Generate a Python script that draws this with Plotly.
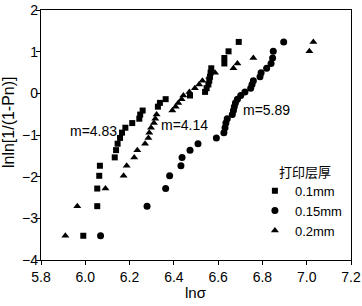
import plotly.graph_objects as go

# ln ln[1/(1-Pn)] values (same ranks for each series)
y_rank = [-3.418, -2.708, -2.285, -1.979, -1.738, -1.537, -1.363, -1.209, -1.070, -0.943,
          -0.825, -0.714, -0.609, -0.510, -0.413, -0.320, -0.229, -0.140, -0.052, 0.035,
          0.124, 0.213, 0.304, 0.398, 0.496, 0.601, 0.717, 0.848, 1.008, 1.234]

x_01 = [5.991, 6.054, 6.054, 6.063, 6.066, 6.133, 6.139, 6.146, 6.157, 6.166,
        6.181, 6.212, 6.244, 6.248, 6.259, 6.328, 6.337, 6.363, 6.473, 6.541,
        6.548, 6.556, 6.560, 6.563, 6.566, 6.569, 6.628, 6.628, 6.647, 6.693]

x_015 = [6.069, 6.279, 6.363, 6.381, 6.432, 6.437, 6.473, 6.509, 6.592, 6.626,
         6.631, 6.635, 6.641, 6.664, 6.669, 6.673, 6.678, 6.687, 6.702, 6.721,
         6.747, 6.753, 6.759, 6.789, 6.794, 6.819, 6.839, 6.846, 6.849, 6.896]

x_02 = [5.910, 5.964, 6.091, 6.173, 6.187, 6.221, 6.235, 6.270, 6.285, 6.289,
        6.297, 6.310, 6.316, 6.322, 6.393, 6.408, 6.420, 6.435, 6.443, 6.470,
        6.495, 6.514, 6.529, 6.560, 6.586, 6.669, 6.687, 6.759, 7.012, 7.030]

series_names = ["0.1mm", "0.15mm", "0.2mm"]
series_x = [x_01, x_015, x_02]
symbols = ["square", "circle", "triangle-up"]
sizes = [6, 7, 7]

m_labels = ["m=4.83", "m=4.14", "m=5.89"]
m_x = [6.036, 6.45, 6.819]
m_y = [-0.91, -0.77, -0.41]

x_ticks = [5.8, 6.0, 6.2, 6.4, 6.6, 6.8, 7.0, 7.2]
x_tick_text = ["5.8", "6.0", "6.2", "6.4", "6.6", "6.8", "7.0", "7.2"]
y_ticks = [-4, -3, -2, -1, 0, 1, 2]

legend_title = "打印层厚"
x_title = "lnσ"
y_title = "lnln[1/(1-Pn)]"

FONT = "Arial, Liberation Sans, Noto Sans CJK SC, sans-serif"
CJK = "Noto Sans CJK SC, sans-serif"

fig = go.Figure()
for name, xs, sym, sz in zip(series_names, series_x, symbols, sizes):
    fig.add_trace(go.Scatter(
        x=xs, y=y_rank, mode="markers", name=name,
        marker=dict(symbol=sym, size=sz, color="black", line=dict(width=0)),
    ))

for t, x, y in zip(m_labels, m_x, m_y):
    fig.add_annotation(x=x, y=y, text=t, showarrow=False,
                       font=dict(size=14, color="black", family=FONT))

# legend title
fig.add_annotation(xref="paper", yref="paper", x=0.852, y=0.355, text=legend_title,
                   xanchor="center", yanchor="middle",
                   showarrow=False, font=dict(size=13, color="black", family=CJK))
# axis titles
fig.add_annotation(xref="paper", yref="paper", x=-0.103, y=0.552, text=y_title,
                   xanchor="center", yanchor="middle",
                   textangle=-90, showarrow=False,
                   font=dict(size=16, color="black", family=FONT))
fig.add_annotation(xref="paper", yref="paper", x=0.5, y=-0.13, text=x_title,
                   xanchor="center", yanchor="middle",
                   showarrow=False, font=dict(size=15, color="black", family=FONT))

fig.update_layout(
    width=362, height=306,
    margin=dict(l=41, r=11, t=10, b=46, autoexpand=False),
    paper_bgcolor="white", plot_bgcolor="white",
    font=dict(family=FONT, color="black", size=13),
    showlegend=True,
    legend=dict(
        x=0.69, y=0.197, xanchor="left", yanchor="middle",
        bgcolor="rgba(0,0,0,0)", font=dict(size=13),
        itemwidth=30, tracegroupgap=0,
    ),
    xaxis=dict(
        range=[5.8, 7.2], tickvals=x_ticks, ticktext=x_tick_text,
        showline=True, linecolor="black", linewidth=1.3, mirror=True,
        ticks="outside", ticklen=4, tickwidth=1.3, tickcolor="black",
        showgrid=False, zeroline=False, automargin=False,
        tickfont=dict(size=14),
    ),
    yaxis=dict(
        range=[-4, 2], tickvals=y_ticks,
        showline=True, linecolor="black", linewidth=1.3, mirror=True,
        ticks="outside", ticklen=4, tickwidth=1.3, tickcolor="black",
        showgrid=False, zeroline=False, automargin=False,
        tickfont=dict(size=14), ticklabelstandoff=-5,
    ),
)

fig.write_html("out.html", config={"displayModeBar": False},
               post_script="document.body.style.margin='0';document.body.style.overflow='hidden';")
